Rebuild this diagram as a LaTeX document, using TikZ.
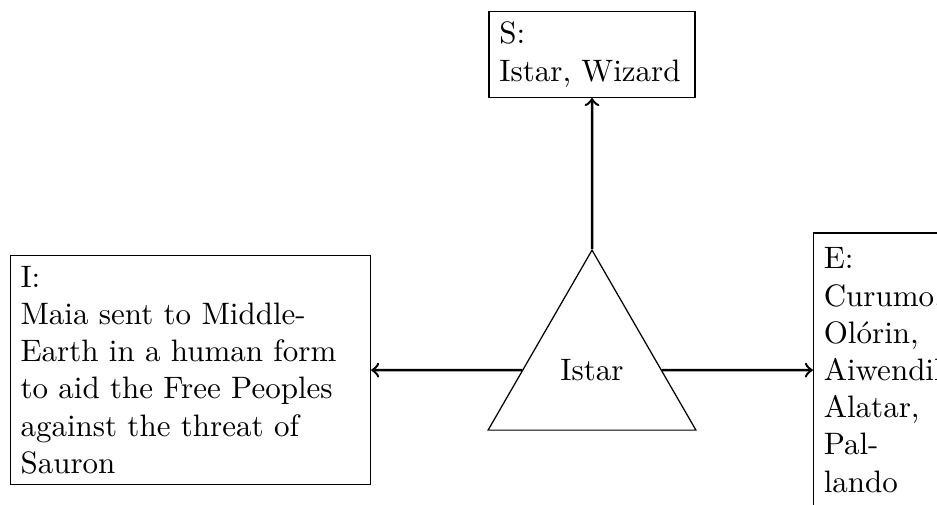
\documentclass[tikz,border=0pt]{standalone}
\usepackage{fontspec}
\usepackage{amsmath,amssymb}
\usepackage{tikz}
\usetikzlibrary{positioning,shapes.geometric}
\hyphenation{Aiwendil}

\begin{document}
\begin{tikzpicture}[node distance=1.71cm,
        box/.style={draw, align=left, inner sep=3.33pt},
        arr/.style={->, thick}]
            \useasboundingbox (-6.71,-1.52) rectangle (3.91,4.195);
            \node[draw, regular polygon, regular polygon sides=3, minimum size=2.72cm, inner sep=0pt] (istar) at (0,0) {Istar};
            \node[box, text width=2.1cm, above=of istar] (s) {S:\\Istar, Wizard};
            \node[box, text width=3.85cm, left=of istar] (i) {I:\\Maia sent to Middle-Earth in a human form to aid the Free Peoples against the threat of Sauron};
            \node[box, text width=1.3cm, inner ysep=4.8pt, right=of istar] (e) {E:\\Curumo, Olórin, Aiwendil, Alatar, Pallando};
            \draw[arr] (istar) -- (s);
            \draw[arr] (istar) -- (i);
            \draw[arr] (istar) -- (e);
        \end{tikzpicture}
\end{document}
